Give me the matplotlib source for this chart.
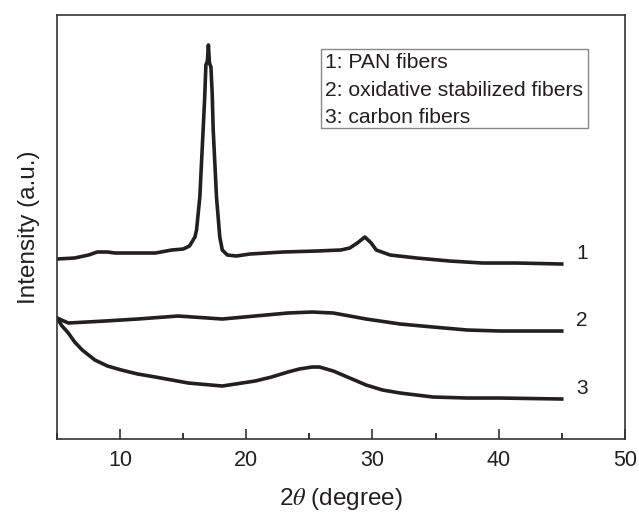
"""
XRD patterns of PAN, oxidative stabilized and carbon fibers.
"""
import matplotlib
matplotlib.use("Agg")
import matplotlib.pyplot as plt
from matplotlib.patches import Rectangle
from matplotlib.ticker import MultipleLocator

plt.rcParams['font.family'] = ['Liberation Sans', 'DejaVu Sans']
plt.rcParams['mathtext.fontset'] = 'stix'

# 2theta positions (degree) and intensities (a.u.)
pan_x = [5.0, 6.4, 7.5, 8.2, 9.0, 9.6, 11.4, 12.8, 14.1, 15.0, 15.5, 15.93,
         16.06, 16.32, 16.58, 16.7, 16.8, 16.92, 17.0, 17.08, 17.2, 17.3,
         17.38, 17.64, 17.9, 18.1, 18.5, 19.2, 20.3, 22.9, 25.6, 27.5, 28.2,
         28.8, 29.4, 29.9, 30.3, 31.4, 33.5, 36.1, 38.7, 41.4, 45.0]
pan_y = [180, 181, 184, 187, 187, 186, 186, 186, 189, 190, 193, 202,
         209, 242, 309, 340, 374, 378, 394, 376, 372, 345,
         309, 242, 202, 189, 184, 183, 185, 187, 188, 189, 191,
         196, 202, 196, 189, 184, 181, 178, 176, 176, 175]

oxi_x = [5.0, 5.9, 8.8, 11.4, 14.6, 18.1, 20.7, 23.3, 25.2, 26.9, 28.2,
         29.5, 32.2, 34.8, 37.5, 40.1, 45.0]
oxi_y = [121, 116, 118, 120, 123, 120, 123, 126, 127, 126, 123,
         120, 115, 112, 109, 108, 108]

carbon_x = [5.0, 5.4, 5.9, 6.4, 7.0, 8.0, 9.0, 10.1, 11.4, 12.8, 15.4, 18.1,
            20.7, 22.0, 23.3, 24.2, 25.2, 25.8, 26.9, 28.2, 29.5, 30.8, 32.2,
            34.8, 37.5, 40.1, 45.0]
carbon_y = [121, 113, 106, 97, 89, 79, 73, 69, 65, 62, 56, 53,
            58, 62, 67, 70, 72, 72, 68, 61, 54, 49, 46,
            42, 41, 41, 40]

legend_lines = ["1: PAN fibers", "2: oxidative stabilized fibers", "3: carbon fibers"]
curve_labels = ["1", "2", "3"]

line_color = '#231f20'

fig = plt.figure(figsize=(6.39, 5.13), dpi=100)
ax = fig.add_axes([0.0892, 0.1442, 0.8886, 0.8266])

for xs, ys in [(pan_x, pan_y), (oxi_x, oxi_y), (carbon_x, carbon_y)]:
    ax.plot(xs, ys, color=line_color, linewidth=2.6, solid_joinstyle='round')

# curve numbers at the right end of each pattern
for label, ys in zip(curve_labels, [pan_y, oxi_y, carbon_y]):
    ax.text(46.6, ys[-1] + 11, label, fontsize=15, color='#231f20',
            ha='center', va='center')

ax.set_xlim(5, 50)
ax.set_ylim(0, 424)
ax.set_xticks([10, 20, 30, 40, 50])
ax.xaxis.set_minor_locator(MultipleLocator(5))
ax.set_yticks([])
ax.tick_params(axis='x', which='major', direction='in', length=7, width=1.1,
               labelsize=15.5, pad=8, colors='#231f20', top=False)
ax.tick_params(axis='x', which='minor', direction='in', length=4.5, width=1.1,
               top=False)
for sp in ax.spines.values():
    sp.set_linewidth(1.2)
    sp.set_color('#333333')

ax.set_xlabel(r"2$\theta$ (degree)", fontsize=17.5, labelpad=11, color='#231f20')
ax.set_ylabel("Intensity (a.u.)", fontsize=17.5, labelpad=12, color='#231f20')

# legend box
ax.add_patch(Rectangle((0.4648, 0.7335), 0.470, 0.186, transform=ax.transAxes,
                       fill=False, edgecolor='#888888', linewidth=1.0))
for i, line in enumerate(legend_lines):
    ax.text(0.472, 0.887 - 0.064 * i, line, transform=ax.transAxes,
            fontsize=15.2, va='center', ha='left', color='#231f20')

fig.savefig("out.png", dpi=100)
